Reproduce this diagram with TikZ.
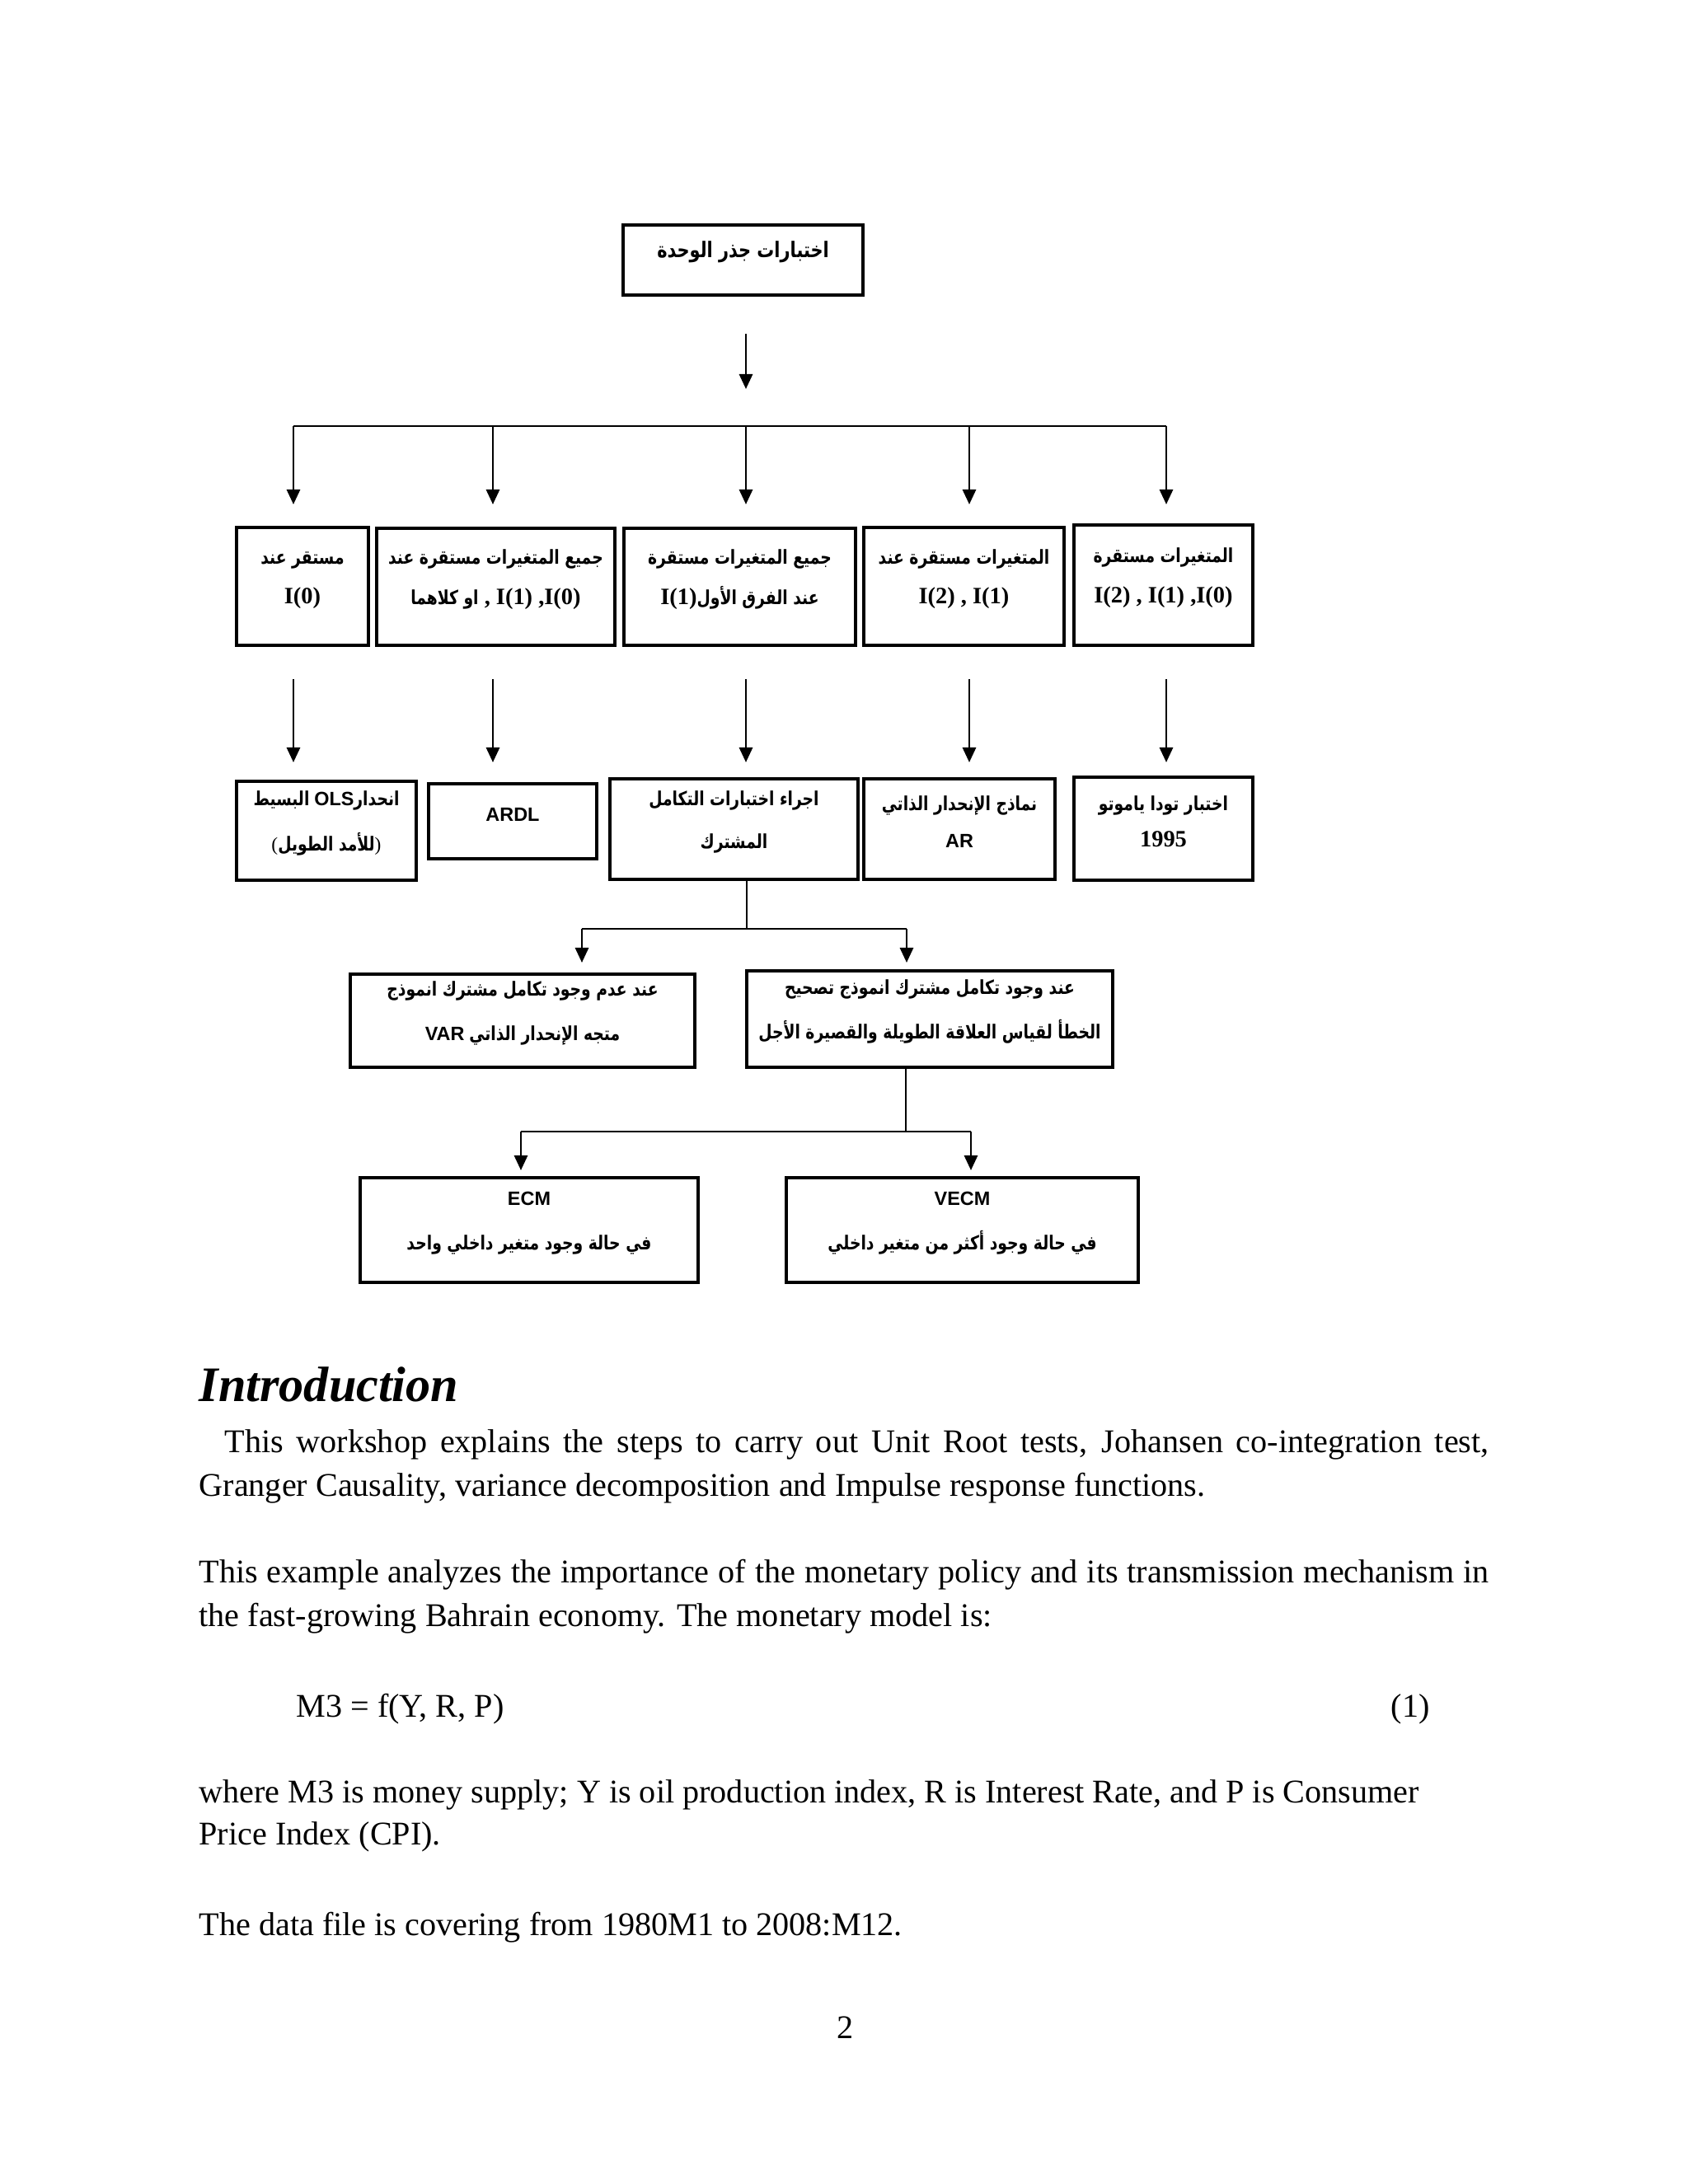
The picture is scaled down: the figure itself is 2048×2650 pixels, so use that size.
\documentclass[tikz,border=0pt]{standalone}
\usepackage{fontspec}
\usetikzlibrary{arrows.meta,fit}
\setmainfont{Liberation Serif}
\newfontfamily\arfont[Script=Arabic, FakeStretch=0.8]{DejaVu Sans}
\newfontfamily\lsfont{Liberation Sans}
\TeXXeTstate=1
\newlength\pxl
\setlength\pxl{0.29883pt}
\newcommand\AR[1]{{\arfont\bfseries\beginR #1\endR}}
\newcommand\IB[1]{{\rmfamily\bfseries\fontsize{8.5}{15}\selectfont #1}}
\newcommand\SB[1]{{\lsfont\bfseries #1}}
\tikzset{
  box/.style={draw=black, line width=0.95pt, inner sep=0pt, rectangle, align=center,
    font=\fontsize{7}{14.5}\selectfont},
  conn/.style={line width=0.85pt, black},
  arr/.style={conn, -{Triangle[width=4.8pt,length=5.4pt]}},
  body/.style={anchor=base west, inner sep=0pt, font=\fontsize{12}{14}\selectfont}
}
\begin{document}
\begin{tikzpicture}[x=0.29883pt,y=-0.29883pt]
\useasboundingbox (0,0) rectangle (2048,2650);
\fill[white] (0,0) rectangle (2048,2650);

% ---- top box
\node[box, fit={(756,273) (1047,358)}, font=\fontsize{7.8}{14.5}\selectfont] (top) {\AR{اختبارات جذر الوحدة}};

% ---- row 2
\node[box, fit={(287,640) (447,783)}] (r2a) {\AR{مستقر عند}\\\IB{I(0)}};
\node[box, fit={(457,641) (746,783)}] (r2b) {\AR{جميع المتغيرات مستقرة عند}\\\AR{او كلاهما}\IB{ , I(1) ,I(0)}};
\node[box, fit={(757,641) (1038,783)}] (r2c) {\AR{جميع المتغيرات مستقرة}\\\IB{I(1)}\AR{عند الفرق الأول}};
\node[box, fit={(1048,640) (1291,783)}] (r2d) {\AR{المتغيرات مستقرة عند}\\\IB{I(2) , I(1)}};
\node[box, fit={(1303,637) (1520,783)}] (r2e) {\AR{المتغيرات مستقرة}\\\IB{I(2) , I(1) ,I(0)}};

% ---- row 3
\node[box, fit={(287,948) (505,1068)}, font=\fontsize{7}{16.5}\selectfont] (r3a) {\AR{البسيط} \SB{OLS}\AR{انحدار}\\(\AR{للأمد الطويل})};
\node[box, fit={(520,951) (724,1042)}] (r3b) {\SB{ARDL}};
\node[box, fit={(740,945) (1041,1067)}, font=\fontsize{7}{15.5}\selectfont] (r3c) {\AR{اجراء اختبارات التكامل}\\\AR{المشترك}};
\node[box, fit={(1048,945) (1280,1067)}, font=\fontsize{7}{13.5}\selectfont] (r3d) {\AR{نماذج الإنحدار الذاتي}\\\SB{AR}};
\node[box, fit={(1303,943) (1520,1068)}, font=\fontsize{7}{13}\selectfont] (r3e) {\AR{اختبار تودا ياموتو}\\\IB{1995}};

% ---- row 4
\node[box, fit={(425,1182) (843,1295)}, font=\fontsize{7}{16}\selectfont] (r4a) {\AR{عند عدم وجود تكامل مشترك انموذج}\\\SB{VAR} \AR{متجه الإنحدار الذاتي}};
\node[box, fit={(906,1178) (1350,1295)}, font=\fontsize{7}{16}\selectfont] (r4b) {\AR{عند وجود تكامل مشترك انموذج تصحيح}\\\AR{الخطأ لقياس العلاقة الطويلة والقصيرة الأجل}};

% ---- row 5
\node[box, fit={(437,1429) (847,1556)}, font=\fontsize{7}{16}\selectfont] (r5a) {\SB{ECM}\\\AR{في حالة وجود متغير داخلي واحد}};
\node[box, fit={(954,1429) (1381,1556)}, font=\fontsize{7}{16}\selectfont] (r5b) {\SB{VECM}\\\AR{في حالة وجود أكثر من متغير داخلي}};

% ---- connectors: top -> bus
\coordinate (t1) at (905,405);
\coordinate (t2) at (905,472);
\draw[arr] (t1) -- (t2);
\coordinate (b1) at (356,517);
\coordinate (b2) at (598,517);
\coordinate (b3) at (905,517);
\coordinate (b4) at (1176,517);
\coordinate (b5) at (1415,517);
\draw[conn] (b1) -- (b5);
\coordinate (d1) at (356,612);
\coordinate (d2) at (598,612);
\coordinate (d3) at (905,612);
\coordinate (d4) at (1176,612);
\coordinate (d5) at (1415,612);
\draw[arr] (b1) -- (d1);
\draw[arr] (b2) -- (d2);
\draw[arr] (b3) -- (d3);
\draw[arr] (b4) -- (d4);
\draw[arr] (b5) -- (d5);

% ---- row 2 -> row 3
\coordinate (s1) at (356,824); \coordinate (e1) at (356,925);
\coordinate (s2) at (598,824); \coordinate (e2) at (598,925);
\coordinate (s3) at (905,824); \coordinate (e3) at (905,925);
\coordinate (s4) at (1176,824); \coordinate (e4) at (1176,925);
\coordinate (s5) at (1415,824); \coordinate (e5) at (1415,925);
\draw[arr] (s1) -- (e1);
\draw[arr] (s2) -- (e2);
\draw[arr] (s3) -- (e3);
\draw[arr] (s4) -- (e4);
\draw[arr] (s5) -- (e5);

% ---- row 3 -> row 4
\coordinate (j1) at (906,1127);
\coordinate (j1l) at (706,1127);
\coordinate (j1r) at (1100,1127);
\coordinate (k1l) at (706,1168);
\coordinate (k1r) at (1100,1168);
\draw[conn] (r3c.south -| j1) -- (j1);
\draw[conn] (j1l) -- (j1r);
\draw[arr] (j1l) -- (k1l);
\draw[arr] (j1r) -- (k1r);

% ---- row 4 -> row 5
\coordinate (j2) at (1099,1373);
\coordinate (j2l) at (632,1373);
\coordinate (j2r) at (1178,1373);
\coordinate (k2l) at (632,1420);
\coordinate (k2r) at (1178,1420);
\draw[conn] (r4b.south -| j2) -- (j2);
\draw[conn] (j2l) -- (j2r);
\draw[arr] (j2l) -- (k2l);
\draw[arr] (j2r) -- (k2r);

% ---- body text
\node[body, font=\bfseries\itshape\fontsize{18}{22}\selectfont] (h) at (241,1700) {Introduction};
\node[body] (l1) at (272,1762) {\makebox[1534\pxl][s]{This workshop explains the steps to carry out Unit Root tests, Johansen co-integration test,}};
\node[body] (l2) at (241,1815) {Granger Causality, variance decomposition and Impulse response functions.};
\node[body] (l3) at (241,1920) {\makebox[1565\pxl][s]{This example analyzes the importance of the monetary policy and its transmission mechanism in}};
\node[body] (l4) at (241,1973) {the fast-growing Bahrain economy. The monetary model is:};
\node[body] (eq) at (359,2083) {M3 = f(Y, R, P)};
\node[body] (eqn) at (1687,2083) {(1)};
\node[body] (l5) at (241,2187) {where M3 is money supply; Y is oil production index, R is Interest Rate, and P is Consumer};
\node[body] (l6) at (241,2238) {Price Index (CPI).};
\node[body] (l7) at (241,2348) {The data file is covering from 1980M1 to 2008:M12.};
\node[body, anchor=base] (pg) at (1026,2473) {2};
\end{tikzpicture}
\end{document}
